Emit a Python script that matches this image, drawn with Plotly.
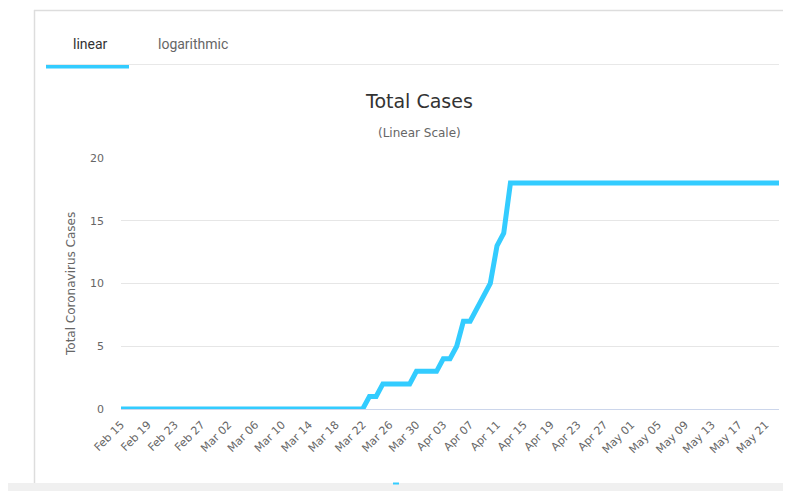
import pandas as pd
import plotly.graph_objects as go

# ---- data ----
start_date = "2020-02-15"
end_date = "2020-05-23"
dates = pd.date_range(start_date, end_date, freq="D").strftime("%Y-%m-%d").tolist()
total_cases = [
    0, 0, 0, 0, 0, 0, 0, 0, 0, 0,   # Feb 15 - Feb 24
    0, 0, 0, 0, 0, 0, 0, 0, 0, 0,   # Feb 25 - Mar 05
    0, 0, 0, 0, 0, 0, 0, 0, 0, 0,   # Mar 06 - Mar 15
    0, 0, 0, 0, 0, 0, 0, 1, 1, 2,   # Mar 16 - Mar 25
    2, 2, 2, 2, 3, 3, 3, 3, 4, 4,   # Mar 26 - Apr 04
    5, 7, 7, 8, 9, 10, 13, 14, 18, 18,  # Apr 05 - Apr 14
    18, 18, 18, 18, 18, 18, 18, 18, 18, 18,  # Apr 15 - Apr 24
    18, 18, 18, 18, 18, 18, 18, 18, 18, 18,  # Apr 25 - May 04
    18, 18, 18, 18, 18, 18, 18, 18, 18, 18,  # May 05 - May 14
    18, 18, 18, 18, 18, 18, 18, 18, 18,      # May 15 - May 23
]
y_ticks = [0, 5, 10, 15, 20]
tabs = ["linear", "logarithmic"]
title_text = "Total Cases"
subtitle_text = "(Linear Scale)"
y_title = "Total Coronavirus Cases"
series_name = "Cases"

# ---- geometry (screen pixels; page body has an 8px margin) ----
OFF = 8
W, H = 791 - OFF, 491 - OFF
L, R, T, B = 121, 779, 158, 409  # plot area in screen pixels


def px(x):
    return (x - L) / (R - L)


def py(y):
    return (B - y) / (B - T)


fig = go.Figure()
fig.add_trace(go.Scatter(
    x=dates, y=total_cases, mode="lines", name=series_name,
    line=dict(color="#33ccff", width=5), hoverinfo="x+y",
))

shapes = [
    # card border
    dict(type="line", xref="paper", yref="paper", x0=px(34.5), x1=px(34.5), y0=py(10), y1=py(484),
         line=dict(color="#dddddd", width=1.5), layer="below"),
    dict(type="line", xref="paper", yref="paper", x0=px(34), x1=px(795), y0=py(10.5), y1=py(10.5),
         line=dict(color="#dddddd", width=1.5), layer="below"),
    # tab separator
    dict(type="line", xref="paper", yref="paper", x0=px(46), x1=px(779), y0=py(64.5), y1=py(64.5),
         line=dict(color="#e8e8e8", width=1), layer="below"),
    # active tab underline
    dict(type="rect", xref="paper", yref="paper", x0=px(46), x1=px(129), y0=py(65), y1=py(68.5),
         fillcolor="#33ccff", line=dict(width=0), layer="below"),
    # bottom grey strip
    dict(type="rect", xref="paper", yref="paper", x0=px(-5), x1=px(800), y0=py(483), y1=py(500),
         fillcolor="#f0f0f0", line=dict(width=0), layer="above"),
    # partial legend marker peeking out
    dict(type="line", xref="paper", yref="paper", x0=px(393), x1=px(399), y0=py(483.5), y1=py(483.5),
         line=dict(color="#33ccff", width=2), layer="above"),
]

annotations = [
    dict(text=tabs[0], x=px(90.5), y=py(44), xref="paper", yref="paper", showarrow=False,
         font=dict(family="Roboto", size=14, color="#333333"), xanchor="center", yanchor="middle"),
    dict(text=tabs[1], x=px(193), y=py(44), xref="paper", yref="paper", showarrow=False,
         font=dict(family="Roboto", size=14, color="#666666"), xanchor="center", yanchor="middle"),
    dict(text=title_text, x=px(419), y=py(101), xref="paper", yref="paper", showarrow=False,
         font=dict(family="DejaVu Sans", size=19, color="#333333"), xanchor="center", yanchor="middle"),
    dict(text=subtitle_text, x=px(419), y=py(133), xref="paper", yref="paper", showarrow=False,
         font=dict(family="DejaVu Sans", size=12, color="#666666"), xanchor="center", yanchor="middle"),
    dict(text=y_title, x=px(71), y=py(284), xref="paper", yref="paper", showarrow=False, textangle=-90,
         font=dict(family="DejaVu Sans", size=12, color="#666666"), xanchor="center", yanchor="middle"),
]

fig.update_layout(
    width=W, height=H,
    margin=dict(l=L - OFF, r=(791 - R), t=T - OFF, b=491 - B, pad=0),
    paper_bgcolor="white", plot_bgcolor="white",
    showlegend=False,
    shapes=shapes, annotations=annotations,
    font=dict(family="DejaVu Sans", color="#666666", size=11),
    xaxis=dict(
        type="date", range=[start_date, end_date],
        tick0=start_date, dtick=4 * 86400000, tickformat="%b %d",
        tickangle=-45, showgrid=False, zeroline=False,
        showline=True, linecolor="#ccd6eb", linewidth=1,
        ticks="", ticklabelstandoff=4,
        tickfont=dict(family="DejaVu Sans", size=11, color="#666666"),
    ),
    yaxis=dict(
        range=[0, 20], tickvals=y_ticks, showgrid=True, gridcolor="#e6e6e6", gridwidth=1,
        zeroline=False, showline=False, ticks="", ticklabelstandoff=16,
        tickfont=dict(family="DejaVu Sans", size=11, color="#666666"),
    ),
)

fig.write_html("out.html")
